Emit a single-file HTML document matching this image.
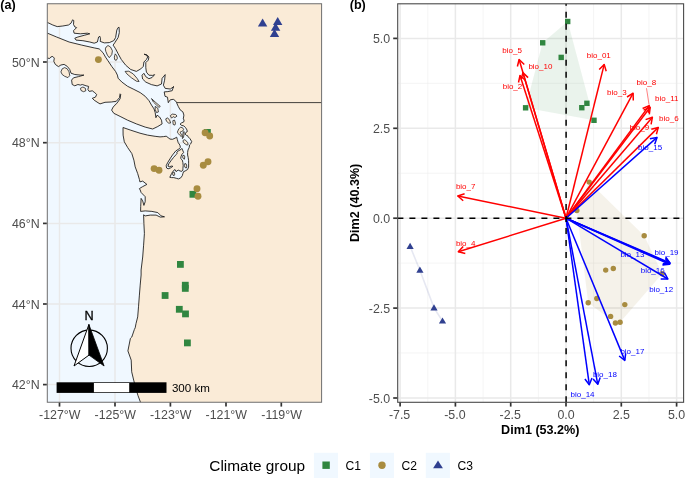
<!DOCTYPE html>
<html><head><meta charset="utf-8"><title>Climate groups</title>
<style>
html,body{margin:0;padding:0;background:#fff;}
svg{display:block;}
text{font-family:"Liberation Sans",sans-serif;}
.ax{font-size:12.4px;fill:#4D4D4D;}
.b{font-weight:bold;font-size:12.6px;fill:#000;}
.lr{font-size:8px;fill:#FF0000;}
.lb{font-size:8px;fill:#0000FF;}
</style></head><body>
<svg width="685" height="478" viewBox="0 0 685 478">
<rect width="685" height="478" fill="#fff"/>
<defs>
<clipPath id="ca"><rect x="47.3" y="3.75" width="274.3" height="398.5"/></clipPath>
<clipPath id="cb"><rect x="397.7" y="3.8" width="285.9" height="398.5"/></clipPath>
</defs>

<rect x="47.3" y="3.8" width="274.2" height="398.3" fill="#F0F8FF"/>
<g clip-path="url(#ca)">
<line x1="59.5" x2="59.5" y1="3" y2="403" stroke="#E9E9E9" stroke-width="1.5"/>
<line x1="115.0" x2="115.0" y1="3" y2="403" stroke="#E9E9E9" stroke-width="1.5"/>
<line x1="170.4" x2="170.4" y1="3" y2="403" stroke="#E9E9E9" stroke-width="1.5"/>
<line x1="226.0" x2="226.0" y1="3" y2="403" stroke="#E9E9E9" stroke-width="1.5"/>
<line x1="281.3" x2="281.3" y1="3" y2="403" stroke="#E9E9E9" stroke-width="1.5"/>
<line y1="62.0" y2="62.0" x1="47" x2="322" stroke="#E9E9E9" stroke-width="1.5"/>
<line y1="142.7" y2="142.7" x1="47" x2="322" stroke="#E9E9E9" stroke-width="1.5"/>
<line y1="223.4" y2="223.4" x1="47" x2="322" stroke="#E9E9E9" stroke-width="1.5"/>
<line y1="304.0" y2="304.0" x1="47" x2="322" stroke="#E9E9E9" stroke-width="1.5"/>
<line y1="384.6" y2="384.6" x1="47" x2="322" stroke="#E9E9E9" stroke-width="1.5"/>
<path d="M36.5 20.0 L47.5 22.5 L52.8 25.0 L57.2 26.6 L62.8 26.0 L68.5 25.0 L71.0 23.2 L72.6 19.8 L73.8 20.6 L73.5 24.4 L74.8 26.9 L76.6 27.6 L73.5 30.7 L74.1 33.2 L80.4 33.8 L87.3 33.2 L89.8 33.8 L84.2 35.3 L77.9 37.0 L74.8 38.2 L76.0 40.1 L82.9 40.7 L89.8 42.0 L94.2 43.2 L97.4 42.0 L98.6 37.0 L99.9 36.3 L100.5 38.9 L100.2 41.4 L104.3 42.9 L109.3 42.6 L113.7 40.7 L115.6 37.6 L116.8 30.1 L118.1 27.6 L119.1 27.3 L119.3 32.6 L118.1 37.6 L114.9 42.6 L113.1 45.1 L115.6 48.8 L118.2 53.9 L121.3 59.5 L125.7 65.2 L130.7 69.5 L136.4 71.4 L140.8 68.9 L143.3 66.4 L143.9 62.0 L146.4 59.5 L147.7 57.0 L146.4 55.1 L144.1 54.2 L147.0 54.9 L148.9 57.0 L148.3 60.1 L145.8 62.6 L145.8 67.7 L146.4 72.1 L148.9 75.2 L152.7 75.4 L154.6 74.6 L152.1 77.5 L148.9 78.7 L145.8 76.7 L143.9 73.3 L142.0 75.2 L142.6 79.0 L145.8 82.1 L151.4 84.6 L157.1 85.9 L161.5 84.0 L162.1 78.3 L165.2 74.6 L164.6 80.2 L163.4 85.2 L165.2 88.4 L170.3 89.0 L174.0 86.5 L173.4 86.9 L172.2 90.7 L167.8 91.6 L164.2 91.9 L165.0 96.3 L167.5 97.2 L167.9 100.1 L168.3 102.7 L169.3 101.1 L170.3 99.8 L173.3 99.3 L175.3 100.7 L176.5 102.3 L176.8 103.2 L178.2 106.3 L180.1 109.8 L182.9 111.9 L183.9 115.1 L183.3 118.9 L184.1 120.0 L183.8 121.9 L181.7 122.8 L180.1 124.0 L181.3 125.3 L183.8 125.9 L185.7 127.8 L187.0 130.0 L187.3 131.6 L186.1 132.2 L185.1 134.1 L186.3 135.3 L187.6 135.7 L188.2 136.9 L190.1 138.8 L191.7 141.6 L190.7 143.9 L189.5 145.0 L189.2 147.5 L188.0 150.0 L187.6 152.5 L187.6 155.0 L188.2 157.5 L188.6 160.7 L188.6 163.8 L188.6 167.0 L187.6 169.5 L185.1 171.0 L183.6 171.6 L182.9 173.5 L182.3 175.7 L180.7 177.9 L178.5 178.9 L176.3 178.3 L173.8 177.6 L171.6 177.6 L169.8 177.3 L171.6 173.5 L172.9 171.3 L175.0 169.5 L176.0 171.6 L178.2 170.1 L180.1 171.0 L181.9 171.3 L182.9 170.1 L182.9 168.5 L183.2 165.7 L182.9 162.6 L182.3 160.1 L180.7 158.5 L181.1 156.3 L181.9 154.4 L183.6 152.5 L182.6 150.0 L181.8 148.4 L181.1 149.4 L178.8 150.6 L176.7 152.3 L177.3 153.1 L176.3 154.4 L173.5 157.5 L171.0 160.7 L168.8 163.8 L167.9 166.1 L169.4 166.7 L171.6 166.1 L172.9 166.3 L170.4 168.0 L168.1 168.8 L166.6 168.0 L166.2 165.7 L167.5 162.9 L170.0 158.8 L172.5 155.0 L175.0 151.9 L175.7 151.0 L178.8 149.0 L180.4 147.5 L179.9 145.1 L178.2 142.6 L177.3 139.5 L176.7 137.2 L175.0 138.2 L172.5 139.3 L170.0 139.1 L168.1 137.6 L166.2 136.2 L163.7 136.6 L160.0 136.9 L155.1 136.3 L147.5 135.1 L140.0 133.2 L130.2 130.0 L123.0 127.5 L123.1 135.1 L124.3 141.8 L127.7 147.6 L131.8 153.5 L133.9 160.2 L135.2 166.9 L137.7 173.6 L139.4 179.4 L139.9 181.9 L142.7 181.1 L146.9 184.4 L142.7 186.6 L139.4 188.6 L140.2 190.0 L141.1 192.5 L145.2 196.7 L145.2 201.7 L143.9 205.4 L142.7 200.9 L141.1 198.4 L140.7 206.7 L140.6 211.4 L145.2 210.9 L151.9 211.4 L157.8 212.6 L161.1 215.9 L164.5 216.8 L160.3 217.1 L156.1 215.1 L150.3 215.1 L145.2 215.9 L143.6 214.8 L143.9 223.5 L144.4 233.5 L143.6 245.2 L142.7 257.0 L141.1 270.0 L141.1 275.0 L140.2 285.1 L139.4 295.1 L138.5 306.8 L137.7 316.9 L136.0 323.6 L135.2 327.8 L134.4 329.4 L131.8 337.0 L130.4 338.4 L127.9 350.9 L131.2 360.1 L131.7 371.8 L133.7 380.2 L135.4 386.9 L137.9 395.3 L140.4 402.0 L142.9 410.3 L145.0 420.0 L340.0 420.0 L340.0 -10.0 L30.0 -10.0Z" fill="#FAEBD7" stroke="#141414" stroke-width="0.85" stroke-linejoin="round"/>
<path d="M36.5 29.8 L47.5 33.2 L56.6 37.0 L69.1 42.0 L81.7 45.1 L94.2 47.9 L99.2 48.9 L103.0 52.7 L105.5 57.1 L108.0 60.8 L111.8 66.5 L115.6 71.5 L117.4 75.1 L118.1 78.2 L121.8 82.0 L127.6 86.3 L133.9 89.4 L140.2 92.6 L145.2 96.3 L149.0 100.7 L151.5 105.1 L154.0 108.9 L155.2 112.6 L155.9 117.7 L157.1 115.2 L159.6 117.0 L161.5 120.2 L162.1 123.9 L157.8 126.5 L152.7 129.0 L145.2 127.1 L136.4 123.9 L127.6 120.2 L120.1 116.4 L113.8 113.3 L111.6 110.1 L113.2 107.0 L116.9 103.2 L120.1 98.8 L120.7 94.4 L120.1 93.8 L119.5 97.6 L116.3 101.3 L111.3 102.0 L105.0 102.3 L100.0 103.9 L98.0 102.7 L94.2 100.2 L92.3 98.3 L95.5 97.1 L96.7 94.5 L94.8 92.7 L92.3 90.8 L89.2 91.4 L87.9 89.5 L88.6 86.4 L86.1 85.8 L82.3 84.5 L80.4 85.1 L77.9 84.5 L74.8 85.8 L72.2 84.5 L71.6 80.1 L73.5 77.8 L78.5 76.6 L83.9 75.1 L80.4 75.1 L74.8 74.5 L71.0 73.2 L69.7 69.4 L67.2 66.3 L64.1 64.4 L60.9 65.0 L58.4 66.6 L55.3 64.4 L53.8 61.3 L54.3 58.1 L52.8 56.5 L50.9 56.9 L49.6 58.5 L47.5 58.1 L36.5 58.1Z" fill="#FAEBD7" stroke="#141414" stroke-width="0.85" stroke-linejoin="round"/>
<path d="M106.1 47.0 L108.0 45.5 L110.5 47.0 L112.4 50.8 L111.8 54.5 L109.3 57.7 L107.4 55.2 L105.8 51.4 L105.3 48.9Z" fill="#FAEBD7" stroke="#141414" stroke-width="0.75" stroke-linejoin="round"/>
<path d="M115.3 53.9 L116.8 55.8 L117.4 58.3 L116.2 60.4 L114.7 59.6 L114.3 57.1Z" fill="#FAEBD7" stroke="#141414" stroke-width="0.75" stroke-linejoin="round"/>
<path d="M125.1 71.4 L128.8 71.2 L133.2 73.9 L137.0 78.3 L139.1 81.5 L136.4 81.2 L131.3 77.7 L126.9 73.9Z" fill="#FAEBD7" stroke="#141414" stroke-width="0.75" stroke-linejoin="round"/>
<path d="M60.9 71.9 L62.2 68.8 L64.7 67.6 L67.2 68.8 L69.1 71.9 L69.7 75.7 L67.9 77.6 L64.7 76.3 L62.2 74.5Z" fill="#FAEBD7" stroke="#141414" stroke-width="0.75" stroke-linejoin="round"/>
<path d="M80.4 88.3 L82.9 87.0 L85.4 88.3 L85.8 90.8 L83.5 91.7 L81.0 90.5Z" fill="#FAEBD7" stroke="#141414" stroke-width="0.75" stroke-linejoin="round"/>
<path d="M151.5 98.6 L155.2 102.0 L160.3 106.4 L159.0 107.4 L156.5 105.1 L153.4 102.0Z" fill="#FAEBD7" stroke="#141414" stroke-width="0.75" stroke-linejoin="round"/>
<path d="M155.2 106.4 L157.8 108.2 L158.4 112.0 L156.5 112.6 L155.2 109.5Z" fill="#FAEBD7" stroke="#141414" stroke-width="0.75" stroke-linejoin="round"/>
<path d="M165.7 118.9 L167.6 117.8 L169.5 120.1 L170.7 122.9 L168.8 123.2 L166.6 121.4Z" fill="#FAEBD7" stroke="#141414" stroke-width="0.75" stroke-linejoin="round"/>
<path d="M170.3 115.7 L172.3 114.1 L175.7 114.5 L177.0 116.1 L174.9 117.6 L173.2 116.6 L171.6 118.2Z" fill="#FAEBD7" stroke="#141414" stroke-width="0.75" stroke-linejoin="round"/>
<path d="M172.8 120.7 L174.5 120.1 L175.5 123.2 L174.9 125.1 L173.2 124.5Z" fill="#FAEBD7" stroke="#141414" stroke-width="0.75" stroke-linejoin="round"/>
<path d="M177.9 130.9 L178.8 128.8 L180.7 127.2 L182.6 127.8 L183.6 129.4 L182.9 130.9 L181.3 131.6 L180.1 132.2 L181.1 134.1 L181.9 135.7 L181.3 136.6 L179.8 135.3 L178.2 133.4 L177.4 132.2Z" fill="#FAEBD7" stroke="#141414" stroke-width="0.75" stroke-linejoin="round"/>
<path d="M183.3 131.9 L184.2 131.6 L184.1 134.4 L183.4 137.6 L182.4 138.6 L182.6 135.7Z" fill="#FAEBD7" stroke="#141414" stroke-width="0.75" stroke-linejoin="round"/>
<path d="M182.9 140.7 L184.2 139.7 L185.7 140.3 L187.6 142.6 L188.2 144.5 L187.0 145.1 L185.1 143.9 L183.6 142.6Z" fill="#FAEBD7" stroke="#141414" stroke-width="0.75" stroke-linejoin="round"/>
<path d="M182.9 155.4 L184.2 155.4 L184.8 156.9 L184.4 159.2 L183.2 158.5 L182.6 156.9Z" fill="#FAEBD7" stroke="#141414" stroke-width="0.75" stroke-linejoin="round"/>
<path d="M184.8 163.6 L186.1 163.8 L186.8 166.1 L186.3 168.0 L185.1 167.6 L184.4 165.7Z" fill="#FAEBD7" stroke="#141414" stroke-width="0.75" stroke-linejoin="round"/>
<path d="M172.5 172.6 L174.1 172.0 L174.8 174.1 L174.1 175.7 L172.9 175.1Z" fill="#FAEBD7" stroke="#141414" stroke-width="0.75" stroke-linejoin="round"/>
<line x1="176.6" y1="102.6" x2="322" y2="102.6" stroke="#141414" stroke-width="0.8"/>
<rect x="204.0" y="129.0" width="6.8" height="6.8" fill="#308640"/>
<rect x="189.5" y="190.9" width="6.8" height="6.8" fill="#308640"/>
<rect x="177.0" y="261.0" width="6.8" height="6.8" fill="#308640"/>
<rect x="181.9" y="281.8" width="6.8" height="6.8" fill="#308640"/>
<rect x="181.9" y="285.0" width="6.8" height="6.8" fill="#308640"/>
<rect x="161.7" y="292.1" width="6.8" height="6.8" fill="#308640"/>
<rect x="175.9" y="305.9" width="6.8" height="6.8" fill="#308640"/>
<rect x="182.1" y="310.5" width="6.8" height="6.8" fill="#308640"/>
<rect x="184.0" y="339.5" width="6.8" height="6.8" fill="#308640"/>
<circle cx="98.4" cy="59.6" r="3.45" fill="#A88C40"/>
<circle cx="205.1" cy="132.8" r="3.45" fill="#A88C40"/>
<circle cx="209.7" cy="136.0" r="3.45" fill="#A88C40"/>
<circle cx="208.0" cy="161.8" r="3.45" fill="#A88C40"/>
<circle cx="203.3" cy="165.2" r="3.45" fill="#A88C40"/>
<circle cx="154.1" cy="168.6" r="3.45" fill="#A88C40"/>
<circle cx="159.0" cy="170.2" r="3.45" fill="#A88C40"/>
<circle cx="197.0" cy="188.7" r="3.45" fill="#A88C40"/>
<circle cx="198.0" cy="196.2" r="3.45" fill="#A88C40"/>
<polygon points="262.6,18.6 257.9,26.6 267.3,26.6" fill="#304090"/>
<polygon points="277.7,16.9 273.0,24.9 282.4,24.9" fill="#304090"/>
<polygon points="275.6,22.8 270.9,30.8 280.3,30.8" fill="#304090"/>
<polygon points="274.5,29.0 269.8,37.0 279.2,37.0" fill="#304090"/>
<circle cx="89.2" cy="348.3" r="18.2" fill="none" stroke="#000" stroke-width="1.1"/>
<polygon points="88.9,324.5 74,366 89,355.1" fill="#fff" stroke="#000" stroke-width="1" stroke-linejoin="miter"/>
<polygon points="88.9,324.5 104.1,366 89,355.1" fill="#000" stroke="#000" stroke-width="0.8"/>
<text x="89" y="320.1" text-anchor="middle" font-size="12.7" fill="#000" stroke="#000" stroke-width="0.3">N</text>
<rect x="56.6" y="382.3" width="109.9" height="10.6" fill="#000"/>
<rect x="93.9" y="383.0" width="35.3" height="9.2" fill="#fff"/>
<text x="171.9" y="391.7" font-size="11.6" fill="#000">300 km</text>
</g>
<rect x="47.3" y="3.75" width="274.3" height="398.5" fill="none" stroke="#6e6e6e" stroke-width="1"/>
<line x1="59.5" x2="59.5" y1="402.6" y2="406.6" stroke="#333" stroke-width="1.7"/>
<text class="ax" x="59.8" y="419.2" text-anchor="middle">-127°W</text>
<line x1="115.0" x2="115.0" y1="402.6" y2="406.6" stroke="#333" stroke-width="1.7"/>
<text class="ax" x="115.3" y="419.2" text-anchor="middle">-125°W</text>
<line x1="170.4" x2="170.4" y1="402.6" y2="406.6" stroke="#333" stroke-width="1.7"/>
<text class="ax" x="170.7" y="419.2" text-anchor="middle">-123°W</text>
<line x1="226.0" x2="226.0" y1="402.6" y2="406.6" stroke="#333" stroke-width="1.7"/>
<text class="ax" x="226.3" y="419.2" text-anchor="middle">-121°W</text>
<line x1="281.3" x2="281.3" y1="402.6" y2="406.6" stroke="#333" stroke-width="1.7"/>
<text class="ax" x="281.6" y="419.2" text-anchor="middle">-119°W</text>
<line y1="62.0" y2="62.0" x1="43.0" x2="46.8" stroke="#333" stroke-width="1.7"/>
<text class="ax" x="39.6" y="66.5" text-anchor="end">50°N</text>
<line y1="142.7" y2="142.7" x1="43.0" x2="46.8" stroke="#333" stroke-width="1.7"/>
<text class="ax" x="39.6" y="147.2" text-anchor="end">48°N</text>
<line y1="223.4" y2="223.4" x1="43.0" x2="46.8" stroke="#333" stroke-width="1.7"/>
<text class="ax" x="39.6" y="227.9" text-anchor="end">46°N</text>
<line y1="304.0" y2="304.0" x1="43.0" x2="46.8" stroke="#333" stroke-width="1.7"/>
<text class="ax" x="39.6" y="308.5" text-anchor="end">44°N</text>
<line y1="384.6" y2="384.6" x1="43.0" x2="46.8" stroke="#333" stroke-width="1.7"/>
<text class="ax" x="39.6" y="389.1" text-anchor="end">42°N</text>
<text class="b" x="0.2" y="9.3">(a)</text>
<text class="b" x="349.7" y="9.3">(b)</text>
<rect x="397.7" y="3.8" width="285.9" height="398.5" fill="#fff"/>
<g clip-path="url(#cb)">
<line x1="427.8" x2="427.8" y1="3" y2="403" stroke="#ECECEC" stroke-width="0.6"/>
<line x1="483.1" x2="483.1" y1="3" y2="403" stroke="#ECECEC" stroke-width="0.6"/>
<line x1="538.4" x2="538.4" y1="3" y2="403" stroke="#ECECEC" stroke-width="0.6"/>
<line x1="593.6" x2="593.6" y1="3" y2="403" stroke="#ECECEC" stroke-width="0.6"/>
<line x1="649.0" x2="649.0" y1="3" y2="403" stroke="#ECECEC" stroke-width="0.6"/>
<line y1="353.0" y2="353.0" x1="397" x2="684" stroke="#ECECEC" stroke-width="0.6"/>
<line y1="263.1" y2="263.1" x1="397" x2="684" stroke="#ECECEC" stroke-width="0.6"/>
<line y1="173.2" y2="173.2" x1="397" x2="684" stroke="#ECECEC" stroke-width="0.6"/>
<line y1="83.3" y2="83.3" x1="397" x2="684" stroke="#ECECEC" stroke-width="0.6"/>
<line x1="400.1" x2="400.1" y1="3" y2="403" stroke="#E9E9E9" stroke-width="1.5"/>
<line x1="455.4" x2="455.4" y1="3" y2="403" stroke="#E9E9E9" stroke-width="1.5"/>
<line x1="510.7" x2="510.7" y1="3" y2="403" stroke="#E9E9E9" stroke-width="1.5"/>
<line x1="566.0" x2="566.0" y1="3" y2="403" stroke="#E9E9E9" stroke-width="1.5"/>
<line x1="621.3" x2="621.3" y1="3" y2="403" stroke="#E9E9E9" stroke-width="1.5"/>
<line x1="676.6" x2="676.6" y1="3" y2="403" stroke="#E9E9E9" stroke-width="1.5"/>
<line y1="398.0" y2="398.0" x1="397" x2="684" stroke="#E9E9E9" stroke-width="1.5"/>
<line y1="308.1" y2="308.1" x1="397" x2="684" stroke="#E9E9E9" stroke-width="1.5"/>
<line y1="218.2" y2="218.2" x1="397" x2="684" stroke="#E9E9E9" stroke-width="1.5"/>
<line y1="128.3" y2="128.3" x1="397" x2="684" stroke="#E9E9E9" stroke-width="1.5"/>
<line y1="38.4" y2="38.4" x1="397" x2="684" stroke="#E9E9E9" stroke-width="1.5"/>
<polygon points="567.7,21.5 542.6,42.8 525.5,107.7 594,120.3" fill="#308640" fill-opacity="0.10"/>
<polygon points="589.2,182.1 644.2,235.7 662.2,273.7 620.1,322.3 615.4,323 588.2,302.7 576.8,210.5" fill="#A88C40" fill-opacity="0.11"/>
<polyline points="410.1,246.3 419.9,270.2 434,307.9 442.5,321" fill="none" stroke="#304090" stroke-opacity="0.12" stroke-width="1.6"/>
<rect x="565.0" y="18.8" width="5.4" height="5.4" fill="#308640"/>
<rect x="540.0" y="40.1" width="5.4" height="5.4" fill="#308640"/>
<rect x="558.5" y="54.7" width="5.4" height="5.4" fill="#308640"/>
<rect x="522.9" y="105.1" width="5.4" height="5.4" fill="#308640"/>
<rect x="579.1" y="105.0" width="5.4" height="5.4" fill="#308640"/>
<rect x="584.2" y="100.6" width="5.4" height="5.4" fill="#308640"/>
<rect x="591.3" y="117.6" width="5.4" height="5.4" fill="#308640"/>
<circle cx="589.2" cy="182.1" r="2.7" fill="#A88C40"/>
<circle cx="576.8" cy="210.5" r="2.7" fill="#A88C40"/>
<circle cx="644.2" cy="235.7" r="2.7" fill="#A88C40"/>
<circle cx="605.7" cy="270.1" r="2.7" fill="#A88C40"/>
<circle cx="613.3" cy="268.5" r="2.7" fill="#A88C40"/>
<circle cx="662.2" cy="273.7" r="2.7" fill="#A88C40"/>
<circle cx="588.2" cy="302.7" r="2.7" fill="#A88C40"/>
<circle cx="596.8" cy="298.5" r="2.7" fill="#A88C40"/>
<circle cx="624.8" cy="304.6" r="2.7" fill="#A88C40"/>
<circle cx="610.6" cy="316.4" r="2.7" fill="#A88C40"/>
<circle cx="615.4" cy="323.0" r="2.7" fill="#A88C40"/>
<circle cx="620.1" cy="322.3" r="2.7" fill="#A88C40"/>
<polygon points="410.1,242.7 406.5,248.9 413.7,248.9" fill="#304090"/>
<polygon points="419.9,266.6 416.3,272.8 423.5,272.8" fill="#304090"/>
<polygon points="434.0,304.3 430.4,310.5 437.6,310.5" fill="#304090"/>
<polygon points="442.5,317.4 438.9,323.6 446.1,323.6" fill="#304090"/>
<line x1="566.0" y1="218.2" x2="519.1" y2="59.5" stroke="#FF0000" stroke-width="1.50"/><polyline points="524.3,64.5 519.1,59.5 517.4,66.5" fill="none" stroke="#FF0000" stroke-width="1.50" stroke-linejoin="round" stroke-linecap="butt"/>
<line x1="566.0" y1="218.2" x2="522.9" y2="72.6" stroke="#FF0000" stroke-width="1.50"/><polyline points="528.1,77.6 522.9,72.6 521.2,79.6" fill="none" stroke="#FF0000" stroke-width="1.50" stroke-linejoin="round" stroke-linecap="butt"/>
<line x1="566.0" y1="218.2" x2="520.0" y2="75.5" stroke="#FF0000" stroke-width="1.50"/><polyline points="525.3,80.3 520.0,75.5 518.5,82.5" fill="none" stroke="#FF0000" stroke-width="1.50" stroke-linejoin="round" stroke-linecap="butt"/>
<line x1="566.0" y1="218.2" x2="604.2" y2="64.4" stroke="#FF0000" stroke-width="1.50"/><polyline points="606.2,71.3 604.2,64.4 599.2,69.6" fill="none" stroke="#FF0000" stroke-width="1.50" stroke-linejoin="round" stroke-linecap="butt"/>
<line x1="566.0" y1="218.2" x2="633.1" y2="93.2" stroke="#FF0000" stroke-width="1.50"/><polyline points="633.3,100.4 633.1,93.2 627.0,97.0" fill="none" stroke="#FF0000" stroke-width="1.50" stroke-linejoin="round" stroke-linecap="butt"/>
<line x1="566.0" y1="218.2" x2="649.2" y2="105.6" stroke="#FF0000" stroke-width="1.50"/><polyline points="648.4,112.8 649.2,105.6 642.6,108.5" fill="none" stroke="#FF0000" stroke-width="1.50" stroke-linejoin="round" stroke-linecap="butt"/>
<line x1="566.0" y1="218.2" x2="650.2" y2="107.3" stroke="#FF0000" stroke-width="1.50"/><polyline points="649.3,114.4 650.2,107.3 643.6,110.1" fill="none" stroke="#FF0000" stroke-width="1.50" stroke-linejoin="round" stroke-linecap="butt"/>
<line x1="566.0" y1="218.2" x2="652.4" y2="117.2" stroke="#FF0000" stroke-width="1.50"/><polyline points="651.1,124.3 652.4,117.2 645.6,119.6" fill="none" stroke="#FF0000" stroke-width="1.50" stroke-linejoin="round" stroke-linecap="butt"/>
<line x1="566.0" y1="218.2" x2="658.3" y2="127.4" stroke="#FF0000" stroke-width="1.50"/><polyline points="656.4,134.3 658.3,127.4 651.3,129.2" fill="none" stroke="#FF0000" stroke-width="1.50" stroke-linejoin="round" stroke-linecap="butt"/>
<line x1="566.0" y1="218.2" x2="457.8" y2="196.0" stroke="#FF0000" stroke-width="1.50"/><polyline points="464.6,193.7 457.8,196.0 463.2,200.8" fill="none" stroke="#FF0000" stroke-width="1.50" stroke-linejoin="round" stroke-linecap="butt"/>
<line x1="566.0" y1="218.2" x2="458.3" y2="251.8" stroke="#FF0000" stroke-width="1.50"/><polyline points="463.2,246.5 458.3,251.8 465.3,253.4" fill="none" stroke="#FF0000" stroke-width="1.50" stroke-linejoin="round" stroke-linecap="butt"/>
<line x1="566.0" y1="218.2" x2="657.0" y2="137.4" stroke="#0000FF" stroke-width="1.50"/><polyline points="654.7,144.2 657.0,137.4 649.9,138.8" fill="none" stroke="#0000FF" stroke-width="1.50" stroke-linejoin="round" stroke-linecap="butt"/>
<line x1="566.0" y1="218.2" x2="670.0" y2="262.9" stroke="#0000FF" stroke-width="1.50"/><polyline points="662.8,263.7 670.0,262.9 665.7,257.1" fill="none" stroke="#0000FF" stroke-width="1.50" stroke-linejoin="round" stroke-linecap="butt"/>
<line x1="566.0" y1="218.2" x2="670.1" y2="263.6" stroke="#0000FF" stroke-width="1.50"/><polyline points="662.9,264.4 670.1,263.6 665.8,257.8" fill="none" stroke="#0000FF" stroke-width="1.50" stroke-linejoin="round" stroke-linecap="butt"/>
<line x1="566.0" y1="218.2" x2="669.6" y2="264.3" stroke="#0000FF" stroke-width="1.50"/><polyline points="662.4,265.1 669.6,264.3 665.4,258.5" fill="none" stroke="#0000FF" stroke-width="1.50" stroke-linejoin="round" stroke-linecap="butt"/>
<line x1="566.0" y1="218.2" x2="667.9" y2="279.0" stroke="#0000FF" stroke-width="1.50"/><polyline points="660.7,278.9 667.9,279.0 664.4,272.7" fill="none" stroke="#0000FF" stroke-width="1.50" stroke-linejoin="round" stroke-linecap="butt"/>
<line x1="566.0" y1="218.2" x2="624.8" y2="360.4" stroke="#0000FF" stroke-width="1.50"/><polyline points="619.1,356.0 624.8,360.4 625.7,353.3" fill="none" stroke="#0000FF" stroke-width="1.50" stroke-linejoin="round" stroke-linecap="butt"/>
<line x1="566.0" y1="218.2" x2="597.8" y2="384.3" stroke="#0000FF" stroke-width="1.50"/><polyline points="593.1,378.9 597.8,384.3 600.2,377.5" fill="none" stroke="#0000FF" stroke-width="1.50" stroke-linejoin="round" stroke-linecap="butt"/>
<line x1="566.0" y1="218.2" x2="589.3" y2="384.7" stroke="#0000FF" stroke-width="1.50"/><polyline points="584.9,379.0 589.3,384.7 592.0,378.0" fill="none" stroke="#0000FF" stroke-width="1.50" stroke-linejoin="round" stroke-linecap="butt"/>
<line x1="397.4" x2="684" y1="218.2" y2="218.2" stroke="#000" stroke-width="1.5" stroke-dasharray="6 6"/>
<line y1="402.3" y2="3" x1="566.1" x2="566.1" stroke="#000" stroke-width="1.5" stroke-dasharray="6 6.02"/>
<line x1="646.5" y1="88.2" x2="649" y2="104.5" stroke="#FF0000" stroke-width="0.5"/>
<text class="lr" x="502.3" y="53.3">bio_5</text>
<text class="lr" x="528.4" y="69.2">bio_10</text>
<text class="lr" x="502.7" y="88.8">bio_2</text>
<text class="lr" x="586.8" y="57.8">bio_01</text>
<text class="lr" x="607.1" y="94.5">bio_3</text>
<text class="lr" x="636.6" y="85.0">bio_8</text>
<text class="lr" x="655.0" y="101.0">bio_11</text>
<text class="lr" x="659.1" y="120.8">bio_6</text>
<text class="lr" x="629.6" y="129.8">bio_9</text>
<text class="lr" x="455.9" y="188.9">bio_7</text>
<text class="lr" x="455.9" y="246.0">bio_4</text>
<text class="lb" x="638.1" y="149.6">bio_15</text>
<text class="lb" x="654.5" y="255.4">bio_19</text>
<text class="lb" x="620.4" y="256.9">bio_13</text>
<text class="lb" x="640.7" y="273.0">bio_16</text>
<text class="lb" x="649.2" y="292.3">bio_12</text>
<text class="lb" x="620.4" y="353.8">bio_17</text>
<text class="lb" x="592.9" y="377.3">bio_18</text>
<text class="lb" x="570.5" y="396.9">bio_14</text>
</g>
<rect x="397.7" y="3.8" width="285.9" height="398.5" fill="none" stroke="#4a4a4a" stroke-width="1.1"/>
<line x1="400.1" x2="400.1" y1="402.6" y2="406.6" stroke="#333" stroke-width="1.7"/>
<text class="ax" x="399.6" y="419.2" text-anchor="middle">-7.5</text>
<line x1="455.4" x2="455.4" y1="402.6" y2="406.6" stroke="#333" stroke-width="1.7"/>
<text class="ax" x="454.9" y="419.2" text-anchor="middle">-5.0</text>
<line x1="510.7" x2="510.7" y1="402.6" y2="406.6" stroke="#333" stroke-width="1.7"/>
<text class="ax" x="510.2" y="419.2" text-anchor="middle">-2.5</text>
<line x1="566.0" x2="566.0" y1="402.6" y2="406.6" stroke="#333" stroke-width="1.7"/>
<text class="ax" x="566.0" y="419.2" text-anchor="middle">0.0</text>
<line x1="621.3" x2="621.3" y1="402.6" y2="406.6" stroke="#333" stroke-width="1.7"/>
<text class="ax" x="621.3" y="419.2" text-anchor="middle">2.5</text>
<line x1="676.6" x2="676.6" y1="402.6" y2="406.6" stroke="#333" stroke-width="1.7"/>
<text class="ax" x="676.6" y="419.2" text-anchor="middle">5.0</text>
<line y1="398.0" y2="398.0" x1="393.2" x2="397.2" stroke="#333" stroke-width="1.7"/>
<text class="ax" x="390.2" y="402.5" text-anchor="end">-5.0</text>
<line y1="308.1" y2="308.1" x1="393.2" x2="397.2" stroke="#333" stroke-width="1.7"/>
<text class="ax" x="390.2" y="312.6" text-anchor="end">-2.5</text>
<line y1="218.2" y2="218.2" x1="393.2" x2="397.2" stroke="#333" stroke-width="1.7"/>
<text class="ax" x="390.2" y="222.7" text-anchor="end">0.0</text>
<line y1="128.3" y2="128.3" x1="393.2" x2="397.2" stroke="#333" stroke-width="1.7"/>
<text class="ax" x="390.2" y="132.8" text-anchor="end">2.5</text>
<line y1="38.4" y2="38.4" x1="393.2" x2="397.2" stroke="#333" stroke-width="1.7"/>
<text class="ax" x="390.2" y="42.9" text-anchor="end">5.0</text>
<text class="b" x="540.3" y="433.5" text-anchor="middle">Dim1 (53.2%)</text>
<text class="b" transform="translate(358.8,202.9) rotate(-90)" text-anchor="middle">Dim2 (40.3%)</text>
<text x="209.3" y="470.7" font-size="15.4" fill="#000">Climate group</text>
<rect x="313.9" y="452.8" width="24.1" height="25.3" fill="#F0F8FF"/>
<rect x="369.9" y="452.8" width="24.1" height="25.3" fill="#F0F8FF"/>
<rect x="425.8" y="452.8" width="24.1" height="25.3" fill="#F0F8FF"/>
<rect x="322.4" y="461.5" width="7.4" height="7.4" fill="#308640"/>
<circle cx="382" cy="465.2" r="3.7" fill="#A88C40"/>
<polygon points="438.0,460.4 433.1,468.2 442.9,468.2" fill="#304090"/>
<text x="345.5" y="469.5" font-size="12.1" fill="#000">C1</text>
<text x="401.5" y="469.5" font-size="12.1" fill="#000">C2</text>
<text x="457.5" y="469.5" font-size="12.1" fill="#000">C3</text>
</svg></body></html>
